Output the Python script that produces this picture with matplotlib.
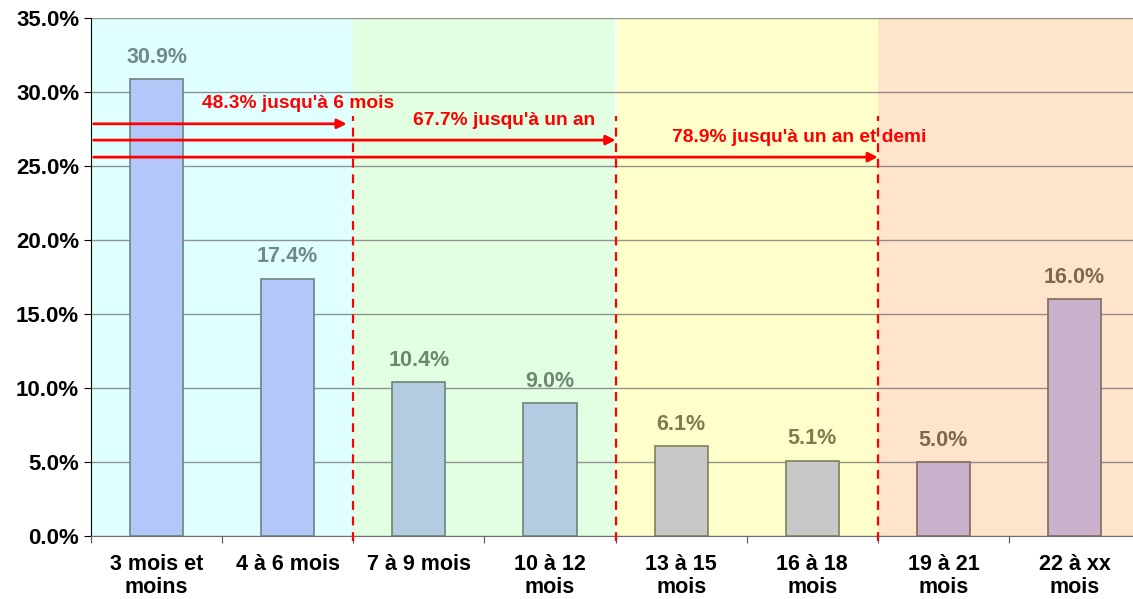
import matplotlib
matplotlib.use("Agg")
import matplotlib.pyplot as plt
from matplotlib.ticker import FuncFormatter, MultipleLocator

plt.rcParams['font.family'] = ['Liberation Sans', 'DejaVu Sans']

categories = ["3 mois et\nmoins", "4 à 6 mois", "7 à 9 mois", "10 à 12\nmois",
              "13 à 15\nmois", "16 à 18\nmois", "19 à 21\nmois", "22 à xx\nmois"]
values = [30.9, 17.4, 10.4, 9.0, 6.1, 5.1, 5.0, 16.0]
bar_colors = ["#B3C8F8", "#B3C8F8", "#B3CCE2", "#B3CCE2",
              "#C8C8C8", "#C8C8C8", "#C9B1CB", "#C9B1CB"]
edge_colors = ["#6F8383", "#6F8383", "#6F8370", "#6F8370",
               "#80805A", "#80805A", "#806A58", "#806A58"]
label_colors = ["#6F8A8C", "#6F8A8C", "#6E8670", "#6E8670",
                "#7F7A50", "#7F7A50", "#7F6650", "#7F6650"]

# background zones: (start category boundary, end boundary, colour)
zones = [(-0.5, 1.5, "#E0FFFF"), (1.5, 3.5, "#E2FFE2"),
         (3.5, 5.5, "#FFFFCC"), (5.5, 7.5, "#FFE4CC")]

# cumulative annotations
cum_texts = ["48.3% jusqu'à 6 mois", "67.7% jusqu'à un an", "78.9% jusqu'à un an et demi"]
cum_levels = [27.85, 26.75, 25.6]
cum_ends = [1.45, 3.5, 5.5]
cum_text_x = [1.08, 2.65, 4.9]
cum_text_y = [29.2, 28.05, 26.9]
dash_x = [1.5, 3.5, 5.5]

fig = plt.figure(figsize=(11.33, 5.99), dpi=100)
ax = fig.add_axes([0.0803, 0.105, 0.926, 0.865])

for x0, x1, c in zones:
    ax.axvspan(x0, x1, color=c, zorder=0, lw=0)
ax.axvline(3.5, color='white', lw=1.2, zorder=0.5)

ax.set_ylim(0, 35)
ax.set_xlim(-0.48, 7.5)
ax.yaxis.set_major_locator(MultipleLocator(5))
ax.yaxis.set_major_formatter(FuncFormatter(lambda v, p: f"{v:.1f}%"))
ax.grid(axis='y', color='#6F6F6F', lw=1, alpha=0.75, zorder=1)
ax.set_axisbelow(True)

xs = list(range(len(values)))
ax.bar(xs, values, width=0.405, color=bar_colors, edgecolor=edge_colors,
       linewidth=1.2, zorder=3)
for x, v, lc in zip(xs, values, label_colors):
    ax.annotate(f"{v:.1f}%", (x, v), xytext=(0, 8), textcoords='offset points',
                ha='center', va='bottom', fontsize=15.5, fontweight='bold', color=lc, zorder=5)

for dx in dash_x:
    ax.plot([dx, dx], [-0.3, 28.4], color='#FF0000', lw=1.6, ls=(0, (4, 3)),
            zorder=4, clip_on=False)

for t, lvl, xe, tx, ty in zip(cum_texts, cum_levels, cum_ends, cum_text_x, cum_text_y):
    ax.annotate("", xy=(xe, lvl), xytext=(-0.48, lvl),
                arrowprops=dict(arrowstyle='-|>', color='#FF0000', lw=2,
                                mutation_scale=14, shrinkA=0, shrinkB=0), zorder=4)
    ax.text(tx, ty, t, color='#FF0000', fontsize=13.8, fontweight='bold',
            ha='center', va='center', zorder=5)

ax.set_xticks([i + 0.5 for i in range(-1, 8)])
ax.set_xticklabels([])
ax.set_xticks(xs, minor=True)
ax.set_xticklabels(categories, minor=True, fontsize=15.5, fontweight='bold',
                   linespacing=1.12)
ax.tick_params(axis='x', which='minor', length=0, pad=13)
ax.tick_params(axis='x', which='major', length=5, color='#555555')
ax.tick_params(axis='y', length=5, labelsize=16)
for lab in ax.get_yticklabels():
    lab.set_fontweight('bold')

ax.spines['top'].set_visible(False)
ax.spines['right'].set_visible(False)
ax.spines['left'].set_color('#000000')
ax.spines['bottom'].set_color('#6F6F6F')

fig.savefig("out.png", dpi=100)
